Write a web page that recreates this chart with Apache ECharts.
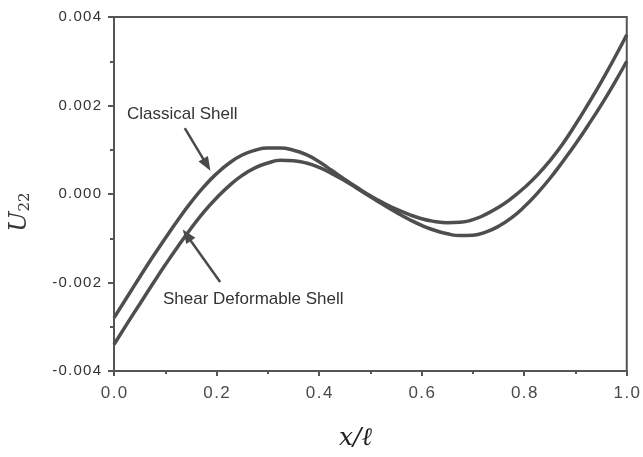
<!DOCTYPE html>
<html>
<head>
<meta charset="utf-8">
<style>
  html, body { margin: 0; padding: 0; background: #ffffff; }
  #chart { width: 643px; height: 457px; }
</style>
<script src="https://cdn.jsdelivr.net/npm/echarts@6/dist/echarts.min.js"></script>
</head>
<body>
<div id="chart"></div>
<script>
// Position along the beam, x / l
const xPositions = [
  0.000, 0.025, 0.050, 0.075, 0.100, 0.125, 0.150, 0.175, 0.200, 0.225,
  0.250, 0.275, 0.300, 0.325, 0.350, 0.375, 0.400, 0.425, 0.450, 0.475,
  0.500, 0.525, 0.550, 0.575, 0.600, 0.625, 0.650, 0.675, 0.700, 0.725,
  0.750, 0.775, 0.800, 0.825, 0.850, 0.875, 0.900, 0.925, 0.950, 0.975, 1.000
];

// U22 for classical shell theory
const classicalShell = [
  -0.00280, -0.00234, -0.00188, -0.00143, -0.00100, -0.00058, -0.00019, 0.00016, 0.00046, 0.00070,
  0.00088, 0.00099, 0.00104, 0.00104, 0.00099, 0.00089, 0.00073, 0.00053, 0.00033, 0.00014,
  -0.00004, -0.00020, -0.00034, -0.00046, -0.00056, -0.00062, -0.00065, -0.00064, -0.00058, -0.00046,
  -0.00030, -0.00010, 0.00014, 0.00042, 0.00075, 0.00113, 0.00157, 0.00204, 0.00253, 0.00305, 0.00360
];

// U22 for shear deformable shell theory
const shearDeformableShell = [
  -0.00340, -0.00294, -0.00249, -0.00204, -0.00160, -0.00118, -0.00078, -0.00041, -0.00009, 0.00019,
  0.00042, 0.00059, 0.00070, 0.00076, 0.00075, 0.00070, 0.00060, 0.00046, 0.00030, 0.00012,
  -0.00006, -0.00024, -0.00041, -0.00057, -0.00071, -0.00082, -0.00090, -0.00094, -0.00093, -0.00086,
  -0.00073, -0.00054, -0.00029, 0.00001, 0.00035, 0.00073, 0.00113, 0.00156, 0.00201, 0.00249, 0.00300
];

// Callout arrows: [tail, head] in data coordinates
const classicalArrow = [[0.138, 0.00149], [0.181, 0.00066]];
const shearArrow = [[0.207, -0.00199], [0.142, -0.00093]];

const axisColor = '#555555';
const curveColor = '#4e4e4e';
const labelFont = '"Liberation Sans", Arial, sans-serif';
const mathFont = '"DejaVu Serif", "Liberation Serif", serif';

const toPairs = (xs, ys) => xs.map((x, i) => [x, ys[i]]);
const spaced = (s) => s.split('').join('\u200A');

const chart = echarts.init(document.getElementById('chart'), null, { renderer: 'canvas' });

const arrowLine = (pts) => ({
  silent: true,
  symbol: ['none', 'triangle'],
  symbolSize: [11, 14],
  label: { show: false },
  lineStyle: { color: '#4a4a4a', width: 2.5, type: 'solid' },
  emphasis: { disabled: true },
  data: [[{ coord: pts[0] }, { coord: pts[1] }]]
});

chart.setOption({
  animation: false,
  backgroundColor: '#ffffff',
  grid: {
    left: 114, right: 16, top: 17, bottom: 86,
    show: true, borderColor: axisColor, borderWidth: 2, backgroundColor: 'transparent'
  },
  xAxis: {
    type: 'value',
    min: 0, max: 1, interval: 0.2,
    axisLine: { show: true, onZero: false, lineStyle: { color: axisColor, width: 2 } },
    axisTick: { show: true, inside: false, length: 5, lineStyle: { color: axisColor, width: 2 } },
    minorTick: { show: true, splitNumber: 2, length: 3, lineStyle: { color: axisColor, width: 2 } },
    splitLine: { show: false },
    axisLabel: {
      margin: 14,
      color: '#4a4a4a',
      fontFamily: labelFont,
      fontSize: 17,
      formatter: (v) => spaced(v.toFixed(1))
    }
  },
  yAxis: {
    type: 'value',
    min: -0.004, max: 0.004, interval: 0.002,
    axisLine: { show: true, onZero: false, lineStyle: { color: axisColor, width: 2 } },
    axisTick: { show: true, inside: false, length: 6, lineStyle: { color: axisColor, width: 2 } },
    minorTick: { show: true, splitNumber: 2, length: 4, lineStyle: { color: axisColor, width: 2 } },
    splitLine: { show: false },
    axisLabel: {
      margin: 13,
      color: '#333333',
      fontFamily: labelFont,
      fontSize: 15,
      formatter: (v) => spaced(v.toFixed(3))
    }
  },
  series: [
    {
      name: 'Classical Shell',
      type: 'line',
      data: toPairs(xPositions, classicalShell),
      smooth: true,
      showSymbol: false,
      lineStyle: { color: curveColor, width: 3.5 },
      markLine: arrowLine(classicalArrow)
    },
    {
      name: 'Shear Deformable Shell',
      type: 'line',
      data: toPairs(xPositions, shearDeformableShell),
      smooth: true,
      showSymbol: false,
      lineStyle: { color: curveColor, width: 3.5 },
      markLine: arrowLine(shearArrow)
    }
  ],
  graphic: [
    {
      type: 'text', left: 127, top: 106,
      style: { text: 'Classical Shell', fill: '#333333', font: '17px ' + labelFont }
    },
    {
      type: 'text', left: 163, top: 291,
      style: { text: 'Shear Deformable Shell', fill: '#333333', font: '17px ' + labelFont }
    },
    {
      type: 'text', left: 339, top: 426,
      style: { text: 'x/ℓ', fill: '#222222', font: 'italic 25px ' + mathFont }
    },
    {
      type: 'text', x: 20, y: 212, rotation: Math.PI / 2,
      style: {
        text: '{u|U}{s|22}',
        align: 'center', verticalAlign: 'middle',
        rich: {
          u: { fill: '#3a3a3a', font: 'italic 24px ' + mathFont },
          s: { fill: '#3a3a3a', font: '15px ' + mathFont, padding: [11, 0, 0, 0] }
        }
      }
    }
  ]
});
</script>
</body>
</html>
